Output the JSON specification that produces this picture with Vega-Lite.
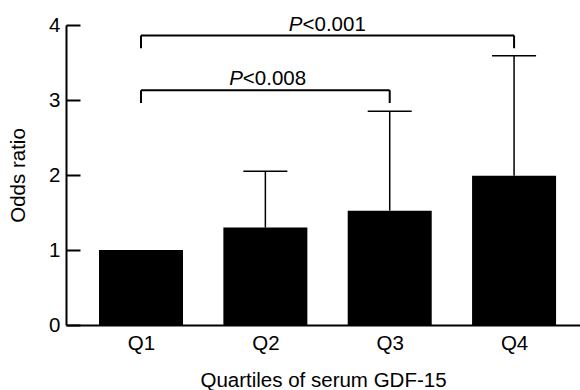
{
  "$schema": "https://vega.github.io/schema/vega-lite/v6.json",
  "autosize": "none",
  "width": 514,
  "height": 300,
  "padding": {"left": 66, "top": 25, "right": 0, "bottom": 65},
  "background": "white",
  "config": {
    "view": {"stroke": null},
    "font": "Liberation Sans",
    "axis": {
      "labelFont": "Liberation Sans",
      "titleFont": "Liberation Sans",
      "labelFontSize": 20.5,
      "titleFontSize": 20.5,
      "labelColor": "black",
      "titleColor": "black",
      "titleFontWeight": "normal",
      "domainColor": "black",
      "domainWidth": 2,
      "tickColor": "black",
      "tickWidth": 2,
      "grid": false
    }
  },
  "datasets": {
    "bars": [
      {"quartile": 1, "odds": 1.0},
      {"quartile": 2, "odds": 1.3, "upper": 2.05},
      {"quartile": 3, "odds": 1.525, "upper": 2.85},
      {"quartile": 4, "odds": 1.99, "upper": 3.59}
    ],
    "brackets": [
      {"from": 1, "to": 3, "level": 3.13, "mid": 2.02, "labelY": 3.205, "pval": "<0.008"},
      {"from": 1, "to": 4, "level": 3.86, "mid": 2.5, "labelY": 3.925, "pval": "<0.001"}
    ],
    "drops": [
      {"at": 1, "top": 3.13, "bottom": 2.96},
      {"at": 3, "top": 3.13, "bottom": 2.96},
      {"at": 1, "top": 3.86, "bottom": 3.69},
      {"at": 4, "top": 3.86, "bottom": 3.69}
    ]
  },
  "layer": [
    {
      "data": {"name": "bars"},
      "mark": {"type": "bar", "width": 84, "color": "black"},
      "encoding": {
        "x": {
          "field": "quartile",
          "type": "quantitative",
          "scale": {"domain": [0.437, 4.49], "nice": false, "zero": false},
          "axis": {
            "values": [1, 2, 3, 4],
            "labelExpr": "'Q' + datum.value",
            "ticks": false,
            "labelPadding": 8,
            "title": "Quartiles of serum GDF-15",
            "titlePadding": 17
          }
        },
        "y": {
          "field": "odds",
          "type": "quantitative",
          "scale": {"domain": [0, 4], "nice": false},
          "axis": {
            "values": [0, 1, 2, 3, 4],
            "format": "d",
            "tickSize": -14,
            "labelPadding": 20,
            "title": "Odds ratio",
            "titlePadding": 20
          }
        }
      }
    },
    {
      "data": {"name": "bars"},
      "transform": [{"filter": "isValid(datum.upper)"}],
      "mark": {"type": "rule", "color": "black", "strokeWidth": 1.5},
      "encoding": {
        "x": {"field": "quartile", "type": "quantitative"},
        "y": {"field": "odds", "type": "quantitative"},
        "y2": {"field": "upper"}
      }
    },
    {
      "data": {"name": "bars"},
      "transform": [{"filter": "isValid(datum.upper)"}],
      "mark": {"type": "tick", "orient": "horizontal", "size": 44, "thickness": 1.5, "color": "black", "opacity": 1},
      "encoding": {
        "x": {"field": "quartile", "type": "quantitative"},
        "y": {"field": "upper", "type": "quantitative"}
      }
    },
    {
      "data": {"name": "brackets"},
      "mark": {"type": "rule", "color": "black", "strokeWidth": 2},
      "encoding": {
        "x": {"field": "from", "type": "quantitative"},
        "x2": {"field": "to"},
        "y": {"field": "level", "type": "quantitative"}
      }
    },
    {
      "data": {"name": "drops"},
      "mark": {"type": "rule", "color": "black", "strokeWidth": 2},
      "encoding": {
        "x": {"field": "at", "type": "quantitative"},
        "y": {"field": "top", "type": "quantitative"},
        "y2": {"field": "bottom"}
      }
    },
    {
      "data": {"name": "brackets"},
      "mark": {"type": "text", "text": "P", "fontStyle": "italic", "fontSize": 20.5, "font": "Liberation Sans", "align": "right", "baseline": "alphabetic", "dx": -25, "color": "black"},
      "encoding": {
        "x": {"field": "mid", "type": "quantitative"},
        "y": {"field": "labelY", "type": "quantitative"}
      }
    },
    {
      "data": {"name": "brackets"},
      "mark": {"type": "text", "fontSize": 20.5, "font": "Liberation Sans", "align": "left", "baseline": "alphabetic", "dx": -25, "color": "black"},
      "encoding": {
        "x": {"field": "mid", "type": "quantitative"},
        "y": {"field": "labelY", "type": "quantitative"},
        "text": {"field": "pval"}
      }
    }
  ]
}
